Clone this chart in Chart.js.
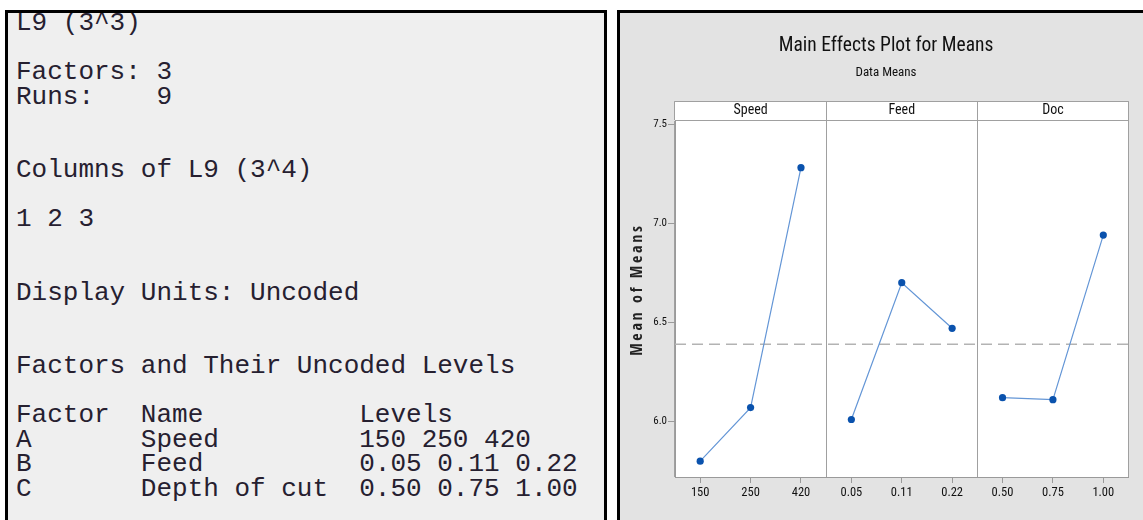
<!DOCTYPE html>
<html><head><meta charset="utf-8">
<script src="https://cdn.jsdelivr.net/npm/chart.js@4.4.1/dist/chart.umd.min.js"></script>
<style>
html,body{margin:0;padding:0;background:#fff;width:1143px;height:520px;overflow:hidden;position:relative;}
#left{position:absolute;left:5px;top:10px;width:596px;height:520px;border:3px solid #000;border-bottom:none;background:#efefef;overflow:hidden;}
#left pre{position:absolute;left:8px;top:-2px;margin:0;font-family:'Liberation Mono','Courier New',monospace;font-size:26px;line-height:24.5px;color:#262030;}
#right{position:absolute;left:617px;top:10px;width:540px;height:520px;border-left:3px solid #000;border-top:3px solid #000;background:#e3e3e3;}
#chart{position:absolute;left:621px;top:13px;}
</style>
</head>
<body>
<div id="left"><pre>L9 (3^3)

Factors: 3
Runs:    9


Columns of L9 (3^4)

1 2 3


Display Units: Uncoded


Factors and Their Uncoded Levels

Factor  Name          Levels
A       Speed         150 250 420
B       Feed          0.05 0.11 0.22
C       Depth of cut  0.50 0.75 1.00</pre></div>
<div id="right"></div>
<canvas id="chart" width="530" height="507"></canvas>
<script>
const panelNames = ['Speed', 'Feed', 'Doc'];
const speedLevels = ['150', '250', '420'];
const feedLevels = ['0.05', '0.11', '0.22'];
const docLevels = ['0.50', '0.75', '1.00'];
const speedMeans = [5.80, 6.07, 7.28];
const feedMeans = [6.01, 6.70, 6.47];
const docMeans = [6.12, 6.11, 6.94];
const grandMean = 6.39;
const yTickValues = [6.0, 6.5, 7.0, 7.5];
const yMin = 5.72, yMax = 7.52;

const F = "'Roboto Condensed','DejaVu Sans Condensed',Arial,sans-serif";
const FB = "'Open Sans Condensed','Roboto Condensed',Arial,sans-serif";
const levelLabels = [...speedLevels, ...feedLevels, ...docLevels];
const groups = [speedMeans, feedMeans, docMeans];

function panelData(idx) {
  const out = [];
  groups.forEach((g, gi) => g.forEach(v => out.push(gi === idx ? v : null)));
  return out;
}

const lineColor = '#6496d6';
const dotColor = '#0a52ad';
const datasets = panelNames.map((name, i) => ({
  label: name,
  data: panelData(i),
  xAxisID: 'x',
  yAxisID: 'y',
  borderColor: lineColor,
  borderWidth: 1.2,
  pointRadius: 3.6,
  pointBackgroundColor: dotColor,
  pointBorderColor: dotColor,
  pointBorderWidth: 0,
  spanGaps: false,
  tension: 0
}));
datasets.push({
  label: 'Mean',
  data: [{x: 0, y: grandMean}, {x: 1, y: grandMean}],
  xAxisID: 'xr',
  yAxisID: 'y',
  borderColor: '#b3b3b3',
  borderWidth: 1.5,
  borderDash: [11, 6],
  pointRadius: 0
});

const stripPlugin = {
  id: 'strip',
  beforeDraw(chart) {
    const {ctx, chartArea: a, scales: {xt}} = chart;
    ctx.save();
    ctx.fillStyle = '#ffffff';
    ctx.fillRect(a.left, xt.top, a.right - a.left, a.bottom - xt.top);
    ctx.strokeStyle = '#a0a0a0';
    ctx.lineWidth = 1;
    ctx.beginPath();
    ctx.moveTo(a.left, Math.round(xt.top) + 0.5);
    ctx.lineTo(a.right, Math.round(xt.top) + 0.5);
    ctx.stroke();
    ctx.restore();
  }
};

new Chart(document.getElementById('chart'), {
  type: 'line',
  data: {labels: levelLabels, datasets},
  plugins: [stripPlugin],
  options: {
    responsive: false,
    animation: false,
    events: [],
    layout: {padding: 0},
    plugins: {
      legend: {display: false},
      tooltip: {enabled: false},
      title: {display: true, text: 'Main Effects Plot for Means', color: '#111',
        font: {family: F, size: 19.5, weight: 'normal'}, padding: {top: 21.3, bottom: 0}},
      subtitle: {display: true, text: 'Data Means', color: '#111',
        font: {family: F, size: 13, weight: 'normal'}, padding: {top: 7.3, bottom: 20.5}}
    },
    scales: {
      x: {
        type: 'category', position: 'bottom', offset: true,
        grid: {display: true, drawOnChartArea: false, drawTicks: true, tickLength: 6, color: '#9a9a9a'},
        border: {display: true, color: '#9a9a9a'},
        ticks: {font: {family: F, size: 12.5}, color: '#111', padding: 2, maxRotation: 0, autoSkip: false},
        afterFit(s) { s.height = 43; }
      },
      xt: {
        type: 'category', position: 'top', labels: panelNames, offset: true,
        grid: {display: true, offset: true, drawOnChartArea: true, drawTicks: true, tickLength: 19, color: '#a0a0a0'},
        border: {display: true, color: '#a0a0a0'},
        ticks: {font: {family: F, size: 14}, color: '#111', padding: -17.5, maxRotation: 0},
        afterFit(s) { s.height = 19; }
      },
      xr: {type: 'linear', display: false, min: 0, max: 1},
      y: {
        min: yMin, max: yMax,
        afterBuildTicks(s) { s.ticks = yTickValues.map(v => ({value: v})); },
        grid: {display: true, drawOnChartArea: false, drawTicks: true, tickLength: 7, color: '#9a9a9a'},
        border: {display: true, color: '#9a9a9a'},
        ticks: {callback: v => Number(v).toFixed(1), font: {family: F, size: 11}, color: '#111', padding: 1},
        title: {display: true, text: 'Mean of Means', color: '#222',
          font: {family: FB, size: 16, weight: 'bold'}, padding: {top: 7.4, bottom: 0}},
        afterFit(s) {
          s.width = 54;
          if (!s._spaced) {
            const orig = s.drawTitle.bind(s);
            s.drawTitle = function () {
              const c = this.ctx;
              c.save();
              c.letterSpacing = '2.7px';
              c.translate(0, -9);
              orig();
              c.restore();
            };
            s._spaced = true;
          }
        }
      },
      yr: {
        type: 'linear', position: 'right', display: true, min: 0, max: 1,
        grid: {display: false}, border: {display: false}, ticks: {display: false},
        afterFit(s) { s.width = 22.5; }
      }
    }
  }
});
</script>
</body></html>
